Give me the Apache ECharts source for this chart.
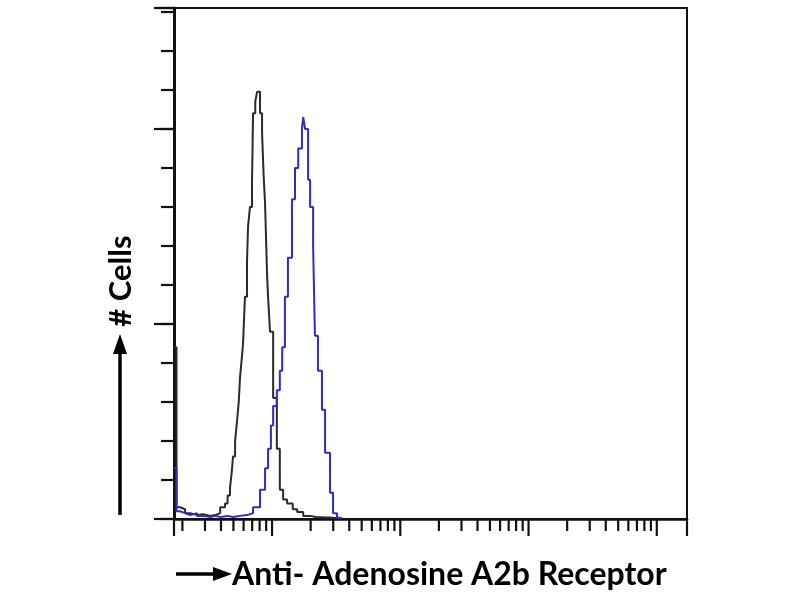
<!DOCTYPE html>
<html>
<head>
<meta charset="utf-8">
<script src="https://cdn.jsdelivr.net/npm/echarts@6/dist/echarts.min.js"></script>
<style>html,body{margin:0;padding:0;background:#fff}#c{width:800px;height:600px}</style>
</head>
<body>
<div id="c"></div>
<script>
// ---- data ----
const xRange = [1.72, 17200];
const yMax = 131;
const xTickMinor = [2,3,4,5,6,7,8,9,20,30,40,50,60,70,80,90,200,300,400,500,600,700,800,900,2000,3000,4000,5000,6000,7000,8000,9000];
const xTickMajor = [10,100,1000,10000];
const xTickEdge = [1.72, 17200];

const xBlack = [1.72,1.8,1.92,2.1,2.3,2.6,2.9,3.3,3.6,3.94,4.3,4.5,4.7,4.85,4.96,5.15,5.33,5.5,5.62,5.8,5.94,6.15,6.38,6.5,6.73,6.98,7.11,7.4,7.64,8.06,8.36,8.6,8.82,9.14,9.31,9.65,10.2,10.9,11.5,12.2,13.1,14.5,15.7,17.5,19.8,22,26.8,30,35];
const yBlack = [44,3,2.5,1.5,1,1.2,0.8,1,1.5,3,4,6,8,12,16,20,25,30,36,41,45,57,66,75,80,86,104,107,109.5,104,99,88,81,63,57,48,31,18,7.5,5,4,2.5,1.8,0.8,0.5,0.4,0.3,0.2,0];

const xBlue = [1.72,1.8,1.92,2.1,2.3,2.6,2.9,3.3,3.6,4.0,4.5,5.0,5.6,6.38,7.11,8.06,8.82,9.31,9.8,10.2,10.9,11.5,12.0,12.6,13.3,14.3,15.1,16.0,17.1,17.5,18.1,19.1,19.8,20.5,20.9,21.6,22.8,24.5,25.9,28.3,29.9,32.1,34];
const yBlue = [13,2,1.5,1,1.5,0.8,0.5,0.8,0.5,0.8,0.5,0.8,1,1.5,3,7.5,13,18,24,29,33,38,44,57,67,82,90,95,100,103,100,87,80,80,70,47,38,28,17,6.7,1.5,0.3,0];

const yTitle = '# Cells';
const xTitle = 'Anti- Adenosine A2b Receptor';

// ---- chart ----
const chart = echarts.init(document.getElementById('c'), null, {renderer: 'canvas'});
const zip = (xs, ys) => xs.map((x, i) => [x, ys[i]]);
const tickSeries = (vals, len) => ({
  type: 'custom',
  clip: false,
  silent: true,
  z: 5,
  data: vals.map(v => [v, 0]),
  renderItem: (params, api) => {
    const p = api.coord([api.value(0), 0]);
    return {type: 'line', shape: {x1: p[0], y1: p[1], x2: p[0], y2: p[1] + len},
      style: {stroke: '#111', lineWidth: 2.2}};
  }
});

chart.setOption({
  animation: false,
  backgroundColor: '#fff',
  grid: {left: 174, top: 8, right: 113, bottom: 81, show: true, borderColor: '#111', borderWidth: 2, backgroundColor: 'transparent'},
  xAxis: {
    type: 'log', logBase: 10, min: xRange[0], max: xRange[1],
    axisLine: {lineStyle: {color: '#111', width: 2.5}},
    axisTick: {show: false}, axisLabel: {show: false}, splitLine: {show: false}, minorTick: {show: false}
  },
  yAxis: [
    {type: 'value', min: 0, max: yMax, interval: 10,
      axisLine: {show: true, lineStyle: {color: '#111', width: 3}},
      axisTick: {show: true, length: 13, lineStyle: {color: '#111', width: 2.2}},
      axisLabel: {show: false}, splitLine: {show: false}},
    {type: 'value', min: 0, max: yMax, interval: 50, position: 'left',
      axisLine: {show: false},
      axisTick: {show: true, length: 20, lineStyle: {color: '#111', width: 2.2}},
      axisLabel: {show: false}, splitLine: {show: false}}
  ],
  series: [
    {type: 'line', name: 'Isotype', data: zip(xBlack, yBlack), step: 'end', showSymbol: false,
      lineStyle: {color: '#2b2b2b', width: 2}, z: 3},
    {type: 'line', name: 'Anti-A2b', data: zip(xBlue, yBlue), step: 'end', showSymbol: false,
      lineStyle: {color: '#2e2ec4', width: 2}, z: 4},
    tickSeries(xTickMinor, 12),
    tickSeries(xTickMajor, 17),
    tickSeries(xTickEdge, 17)
  ],
  graphic: [
    // y title arrow
    {type: 'line', shape: {x1: 120, y1: 515, x2: 120, y2: 350}, style: {stroke: '#000', lineWidth: 3.5}},
    {type: 'polygon', shape: {points: [[120, 334], [113, 354], [127, 354]]}, style: {fill: '#000'}},
    {type: 'text', x: 121, y: 281, rotation: Math.PI / 2,
      style: {text: yTitle, font: 'bold 31px Lato', fill: '#000', align: 'center', verticalAlign: 'middle'}},
    // x title arrow
    {type: 'line', shape: {x1: 176, y1: 574, x2: 216, y2: 574}, style: {stroke: '#000', lineWidth: 3.5}},
    {type: 'polygon', shape: {points: [[232, 574], [213, 567], [213, 581]]}, style: {fill: '#000'}},
    {type: 'text', x: 232, y: 575,
      style: {text: xTitle, font: 'bold 32px Lato', fill: '#000', align: 'left', verticalAlign: 'middle'}}
  ]
});
</script>
</body>
</html>
